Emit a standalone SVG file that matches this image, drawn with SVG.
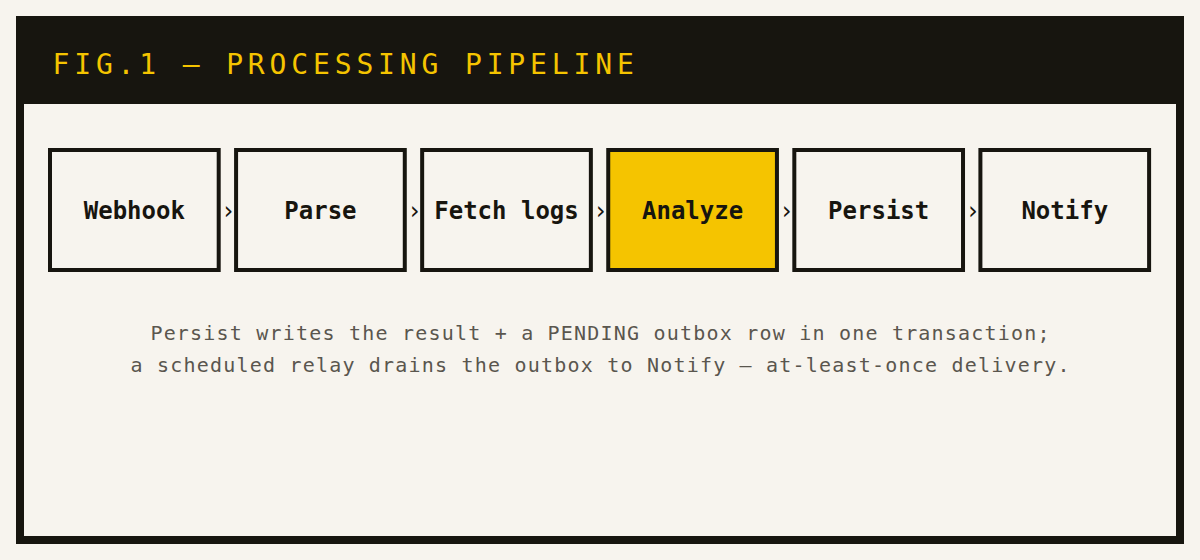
<svg xmlns="http://www.w3.org/2000/svg" width="1200" height="560" viewBox="0 0 1200 560">
  <style>
    .frame { fill: #f7f4ee; stroke: #17150f; stroke-width: 8; }
    .header { fill: #17150f; }
    .title { font-family: "DejaVu Sans Mono", "Liberation Mono", monospace; font-size: 28px; letter-spacing: 4.85px; fill: #f5c400; }
    .box { fill: #f7f4ee; stroke: #17150f; stroke-width: 4; }
    .box.hl { fill: #f5c400; }
    .label { font-family: "DejaVu Sans Mono", "Liberation Mono", monospace; font-size: 24px; font-weight: bold; fill: #17150f; text-anchor: middle; }
    .arrow { font-family: "DejaVu Sans Mono", "Liberation Mono", monospace; font-size: 24px; fill: #17150f; text-anchor: middle; }
    .note { font-family: "DejaVu Sans Mono", "Liberation Mono", monospace; font-size: 20px; letter-spacing: 1.2px; fill: #5a564e; text-anchor: middle; }
  </style>
  <rect x="0" y="0" width="1200" height="560" fill="#f7f4ee"/>
  <rect class="frame" x="20" y="20" width="1160" height="520"/>
  <rect class="header" x="16" y="16" width="1168" height="88"/>
  <text class="title" x="52.5" y="74">FIG.1 — PROCESSING PIPELINE</text>

  <g id="node-webhook">
    <rect class="box" x="50" y="150" width="168.7" height="120"/>
    <text class="label" x="134.35" y="218.5">Webhook</text>
  </g>
  <g id="node-parse">
    <rect class="box" x="236.08" y="150" width="168.7" height="120"/>
    <text class="label" x="320.43" y="218.5">Parse</text>
  </g>
  <g id="node-fetch-logs">
    <rect class="box" x="422.16" y="150" width="168.7" height="120"/>
    <text class="label" x="506.51" y="218.5">Fetch logs</text>
  </g>
  <g id="node-analyze">
    <rect class="box hl" x="608.24" y="150" width="168.7" height="120"/>
    <text class="label" x="692.59" y="218.5">Analyze</text>
  </g>
  <g id="node-persist">
    <rect class="box" x="794.32" y="150" width="168.7" height="120"/>
    <text class="label" x="878.67" y="218.5">Persist</text>
  </g>
  <g id="node-notify">
    <rect class="box" x="980.4" y="150" width="168.7" height="120"/>
    <text class="label" x="1064.75" y="218.5">Notify</text>
  </g>

  <g id="connectors">
    <text class="arrow" x="228.3" y="218.5">›</text>
    <text class="arrow" x="414.4" y="218.5">›</text>
    <text class="arrow" x="600.5" y="218.5">›</text>
    <text class="arrow" x="786.6" y="218.5">›</text>
    <text class="arrow" x="972.7" y="218.5">›</text>
  </g>

  <g id="caption">
    <text class="note" x="600.6" y="339.7">Persist writes the result + a PENDING outbox row in one transaction;</text>
    <text class="note" x="600.6" y="371.5">a scheduled relay drains the outbox to Notify — at-least-once delivery.</text>
  </g>
</svg>
